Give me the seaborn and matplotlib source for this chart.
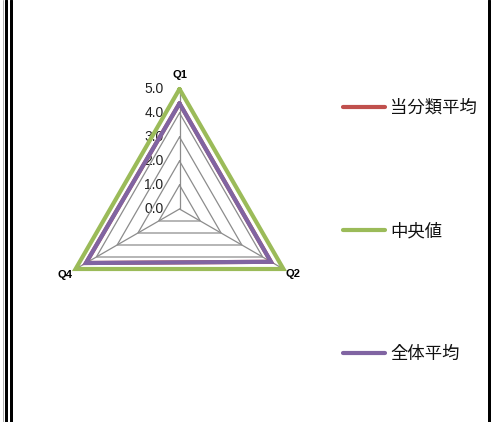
import numpy as np
import pandas as pd
import matplotlib
matplotlib.use("Agg")
import matplotlib.pyplot as plt
import matplotlib.transforms as mtransforms
from matplotlib.lines import Line2D
import seaborn as sns

# ---- data ----
categories = ["Q1", "Q2", "Q4"]
series_names = ["当分類平均", "中央値", "全体平均"]
vals_category_avg = [4.4, 4.4, 4.5]
vals_median = [5.0, 5.0, 5.0]
vals_overall_avg = [4.4, 4.4, 4.5]
radial_ticks = [0.0, 1.0, 2.0, 3.0, 4.0, 5.0]
radial_labels = ["0.0", "1.0", "2.0", "3.0", "4.0", "5.0"]
colors = {"当分類平均": "#C0504D", "中央値": "#9BBB59", "全体平均": "#8064A2"}

sns.set_style("white")
plt.rcParams['font.family'] = ['Noto Sans CJK JP', 'DejaVu Sans']

n = len(categories)
angles = np.linspace(0, 2 * np.pi, n, endpoint=False)
closed_angles = np.concatenate([angles, angles[:1]])

rows = []
for name, vals in zip(series_names, [vals_category_avg, vals_median, vals_overall_avg]):
    v = list(vals) + [vals[0]]
    for i, (a, r) in enumerate(zip(closed_angles, v)):
        rows.append({"series": name, "angle": a, "value": r, "order": i})
df = pd.DataFrame(rows)

W, H = 491, 422
fig = plt.figure(figsize=(W / 100, H / 100), dpi=100)
cx, cy, R = 179.5, 422 - 209, 120
ax = fig.add_axes([(cx - R) / W, (cy - R) / H, 2 * R / W, 2 * R / H], projection="polar")
ax.set_theta_offset(np.pi / 2)
ax.set_theta_direction(-1)
ax.set_ylim(0, 5)
ax.grid(False)
ax.spines["polar"].set_visible(False)
ax.set_xticks([])
ax.set_yticks([])
ax.patch.set_alpha(0)

# polygon grid
grid_color = "#8c8c8c"
for t in radial_ticks[1:]:
    ax.plot(closed_angles, [t] * (n + 1), color=grid_color, lw=0.9, zorder=1, clip_on=False)
for a in angles:
    ax.plot([a, a], [0, radial_ticks[-1]], color=grid_color, lw=0.9, zorder=1, clip_on=False)

# series
sns.lineplot(data=df, x="angle", y="value", hue="series", hue_order=series_names,
             palette=colors, sort=False, estimator=None, units="series", lw=3.0,
             ax=ax, legend=False, zorder=3)
for line in ax.lines:
    line.set_clip_on(False)
    line.set_solid_joinstyle("miter")

# radial tick labels
off = mtransforms.offset_copy(ax.transData, fig=fig, x=-16, y=0, units="dots")
for t, lab in zip(radial_ticks, radial_labels):
    ax.text(0, t, lab, transform=off, ha="right", va="center", fontsize=10,
            family=["Liberation Sans", "DejaVu Sans"], color="#222222", zorder=0)

# category labels
label_r = [5.6, 5.45, 5.5]
for a, c, r in zip(angles, categories, label_r):
    ax.text(a, r, c, ha="center", va="center", fontsize=8, fontweight="bold",
            family=["Liberation Sans", "DejaVu Sans"], color="black")

ax.set_xlabel("")
ax.set_ylabel("")

# legend
handles = [Line2D([0], [0], color=colors[s], lw=3) for s in series_names]
leg = fig.legend(handles, series_names, loc="upper left",
                 bbox_to_anchor=(343 / W, 1 - 99 / H), frameon=False,
                 fontsize=12.5, handlelength=2.4, handletextpad=0.3,
                 labelspacing=6.05, borderpad=0, borderaxespad=0)
for txt in leg.get_texts():
    txt.set_color("#111111")

# frame lines
def vline(x, lw, color):
    fig.add_artist(Line2D([x / W, x / W], [0, 1], transform=fig.transFigure,
                          color=color, lw=lw * 0.72))

vline(3.2, 1, "#b0b0b0")
vline(5.5, 3, "black")
vline(10.5, 3, "black")
vline(488.5, 3, "black")

fig.savefig("out.png", dpi=100)
